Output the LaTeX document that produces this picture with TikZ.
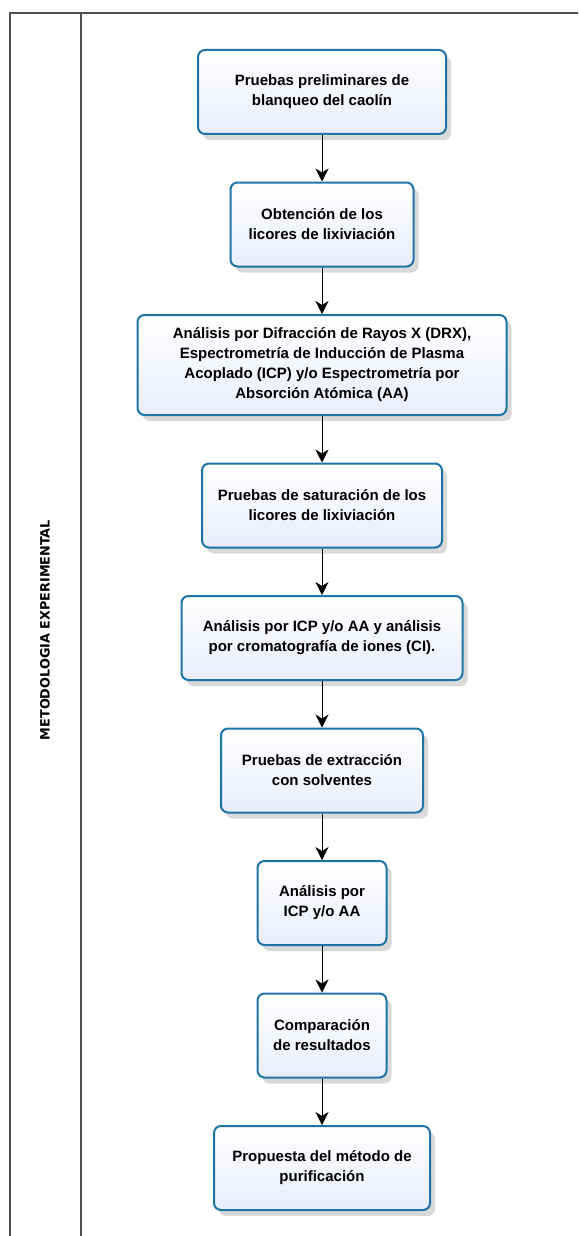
\documentclass[tikz,border=0pt]{standalone}
\usepackage{fontspec}
\setmainfont{Liberation Sans}
\newfontfamily\lanefont{DejaVu Sans}
\usetikzlibrary{positioning,shadows,arrows.meta}
\definecolor{boxblue}{HTML}{1F74A7}
\definecolor{boxfill}{HTML}{E9EDFB}
\definecolor{framegray}{HTML}{505050}

\begin{document}
\begin{tikzpicture}[x=1pt, y=1pt, node distance=46.5pt,
    etapa/.style={draw=boxblue, line width=2pt, rounded corners=7pt,
        top color=white, bottom color=boxfill,
        drop shadow={shadow xshift=5pt, shadow yshift=-6pt, opacity=0.3},
        minimum height=84pt, align=center, inner sep=4pt,
        font=\bfseries\fontsize{15}{20}\selectfont},
    flecha/.style={-{Stealth[length=13pt,width=13pt,inset=4pt]}, line width=0.9pt}]
\useasboundingbox (0,0) rectangle (578,-1236);
% marco del carril
\draw[framegray, line width=1.5pt] (578,-13) -- (10,-13) -- (10,-1236);
\draw[framegray, line width=1.5pt] (81,-13) -- (81,-1236);
\node[rotate=90, font=\lanefont\bfseries\fontsize{12.8}{14}\selectfont]
    (carril) at (45,-630) {METODOLOGIA EXPERIMENTAL};
% etapas
\node[etapa, minimum width=248pt] (e1) at (322,-92)
    {Pruebas preliminares de\\blanqueo del caolín};
\node[etapa, minimum width=183pt, below=of e1] (e2)
    {Obtención de los\\licores de lixiviación};
\node[etapa, minimum width=369pt, minimum height=100pt, below=of e2] (e3)
    {Análisis por Difracción de Rayos X (DRX),\\Espectrometría de Inducción de Plasma\\Acoplado (ICP) y/o Espectrometría por\\Absorción Atómica (AA)};
\node[etapa, minimum width=240pt, below=of e3] (e4)
    {Pruebas de saturación de los\\licores de lixiviación};
\node[etapa, minimum width=281pt, below=of e4] (e5)
    {Análisis por ICP y/o AA y análisis\\por cromatografía de iones (CI).};
\node[etapa, minimum width=202pt, below=of e5] (e6)
    {Pruebas de extracción\\con solventes};
\node[etapa, minimum width=129pt, below=of e6] (e7)
    {Análisis por\\ICP y/o AA};
\node[etapa, minimum width=129pt, below=of e7] (e8)
    {Comparación\\de resultados};
\node[etapa, minimum width=216pt, below=of e8] (e9)
    {Propuesta del método de\\purificación};
% flechas
\foreach \a/\b in {e1/e2, e2/e3, e3/e4, e4/e5, e5/e6, e6/e7, e7/e8, e8/e9}
    \draw[flecha] (\a) -- (\b);
\end{tikzpicture}
\end{document}
